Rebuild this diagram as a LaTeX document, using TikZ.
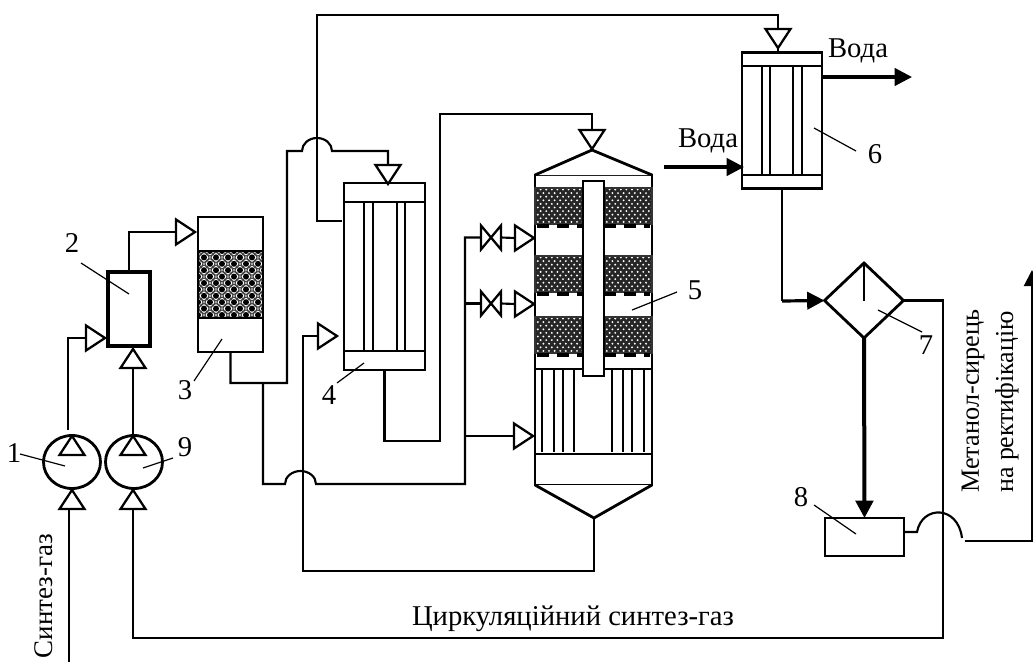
\documentclass[tikz,border=0pt]{standalone}
\usepackage{fontspec}
\setmainfont{Liberation Serif}
\usetikzlibrary{arrows.meta,shapes.geometric,calc}
\def\px{0.75pt}

\begin{document}
\begin{tikzpicture}[
  x=0.75pt,y=-0.75pt,
  font=\fontsize{21.5}{23}\selectfont,
  wall/.style={draw,line width=2.1pt,fill=white,inner sep=0pt,outer sep=0pt},
  pipe/.style={line width=1.6pt},
  leader/.style={line width=0.9pt},
  thickflow/.style={line width=2.4pt,-{Triangle[length=13pt,width=13pt]}},
  flowtri/.style={draw,line width=1.7pt,fill=white,isosceles triangle,isosceles triangle stretches,
    minimum width=25*\px,minimum height=19*\px,inner sep=0pt,outer sep=0pt,anchor=apex},
  toright/.style={flowtri,shape border rotate=0},
  toup/.style={flowtri,shape border rotate=90},
  todown/.style={flowtri,shape border rotate=270},
  balls/.style={wall,path picture={
    \foreach \i in {0,...,6}\foreach \j in {0,...,11}{
      \draw[black!75,line width=0.8pt] ($(path picture bounding box.north west)+({\i*12+mod(\j,2)*6},{\j*6.4})$) circle[radius=5];
      \fill[black] ($(path picture bounding box.north west)+({\i*12+mod(\j,2)*6},{\j*6.4})$) circle[radius=3];}}},
  catalyst/.style={draw=black!80,line width=1.4pt,inner sep=0pt,outer sep=0pt,minimum width=48*\px,minimum height=36*\px,
    path picture={
    \fill[black!85] (path picture bounding box.north west) rectangle (path picture bounding box.south east);
    \foreach \i in {0,...,9}\foreach \j in {0,...,10}{
      \fill[white] ($(path picture bounding box.north west)+({\i*5.6+mod(\j,2)*2.8},{1.5+\j*3.6})$) circle[radius=1.05];}}},
  vessel/.style={wall,minimum width=81*\px}
]
\useasboundingbox (0,0) rectangle (1033,664);

% compressors
\node[wall,ellipse,minimum width=57*\px,minimum height=53*\px] (comp1) at (72,462) {};
\node[wall,ellipse,minimum width=57*\px,minimum height=53*\px] (comp9) at (134,462) {};
\node[toup] (tc1) at (72,436) {};
\node[toup] (tc9) at (133,436) {};
\node[toup] (tc1in) at (72,490) {};
\node[toup] (tc9in) at (133,490) {};

% filter and guard column
\node[wall,line width=3pt,minimum width=42*\px,minimum height=74*\px] (filter) at (129,309) {};
\node[toright] (tf1) at (105,338) {};
\node[toup] (tf9) at (133,349) {};
\node[wall,minimum width=65*\px,minimum height=135*\px] (col3) at (230.5,284.5) {};
\node[balls,minimum width=65*\px,minimum height=67*\px] (bed3) at (230.5,284.5) {};
\node[toright] (tcol) at (195,232) {};

% heat exchanger 4
\node[vessel,minimum height=187*\px] (hx4) at (384.5,276.5) {};
\draw[wall] (344,202) -- (425,202) (344,351) -- (425,351);
\foreach \x in {364,373,397,405} \draw[wall] (\x,202) -- (\x,351);
\node[todown] (thx4) at (388,184) {};
\node[toright] (thx4b) at (337,336) {};

% reactor
\node[wall,minimum width=117*\px,minimum height=310*\px] (shell) at (593.5,330) {};
\coordinate (rtop) at (592,150);
\coordinate (rbot) at (594,518);
\draw[wall] (shell.north west) -- (rtop) -- (shell.north east);
\draw[wall] (shell.south west) -- (rbot) -- (shell.south east);
\foreach \n/\y in {a/206,b/274,c/335}{
  \node[catalyst] (bed\n l) at (559,\y) {};
  \node[catalyst] (bed\n r) at (628,\y) {};
}
\foreach \y in {226,294,355}{
  \draw[line width=2.4pt,dash pattern=on 9pt off 6pt] (537,\y) -- (583,\y);
  \draw[line width=2.4pt,dash pattern=on 9pt off 6pt] (604,\y) -- (650,\y);
}
\draw[wall] (535,369) -- (652,369);
\draw[wall,line width=1.6pt] (535,454) -- (652,454);
\foreach \x in {542,554,563,574,612,623,632,644} \draw[wall] (\x,369) -- (\x,452);
\node[wall,minimum width=21*\px,minimum height=195*\px] (tube) at (593.5,278.5) {};
\node[todown] (tr) at (592,149) {};
\node[toright] (trv1) at (534,238) {};
\node[toright] (trv2) at (534,304) {};
\node[toright] (trc) at (533,436) {};
\foreach \v/\y in {valve1/237.5,valve2/303.5}{
  \node[inner sep=0pt,outer sep=0pt,minimum width=20*\px,minimum height=24*\px] (\v) at (491,\y) {};
  \draw[line width=1.7pt] (\v.north west) -- (\v.south east) -- (\v.north east) -- (\v.south west) -- cycle;
}

% heat exchanger 6
\node[wall,minimum width=80*\px,minimum height=136*\px] (hx6) at (782,120.5) {};
\draw[wall] (742,66) -- (822,66) (742,175) -- (822,175);
\foreach \x in {762,770,793,802} \draw[wall] (\x,66) -- (\x,175);
\node[todown] (thx6) at (778,48) {};

% separator and tank
\node[wall,diamond,minimum width=79*\px,minimum height=75*\px] (sep) at (864,300.5) {};
\draw[wall] (sep.north) -- (sep.center);
\node[wall,minimum width=79*\px,minimum height=38*\px] (tank) at (864.5,537) {};

% pipes
\coordinate (gasin) at (69,662);
\draw[pipe] (gasin) -- (gasin |- tc1in.lower side);
\coordinate (c1out) at (68,430);
\draw[pipe] (c1out) |- (tf1.lower side);
\draw[pipe] (tc9.apex) -- (tf9.lower side);
\draw[pipe] (filter.north) |- (tcol.lower side);
\coordinate (j3) at (263,383);
\coordinate (c3) at (287,383);
\coordinate (h1) at (302,151);
\draw[pipe] (col3.south) |- (c3) |- (h1) arc[start angle=180,end angle=360,x radius=15,y radius=13] -| (thx4.lower side);
\coordinate (h2) at (285,484);
\coordinate (c5) at (465,484);
\draw[pipe] (j3) |- (h2) arc[start angle=180,end angle=360,x radius=15.5,y radius=13] -- (c5) |- (valve1.west);
\draw[pipe] (valve1.east) -- (trv1.lower side);
\draw[pipe] (c5 |- valve2) -- (valve2.west);
\draw[pipe] (valve2.east) -- (trv2.lower side);
\draw[pipe] (c5 |- trc) -- (trc.lower side);
\coordinate (c6) at (303,571);
\draw[pipe] (rbot) |- (c6) |- (thx4b.lower side);
\coordinate (hx4out) at (342,221);
\coordinate (c7) at (317,15);
\draw[pipe] (hx4out) -| (c7) -| (thx6.lower side);
\draw[pipe] (thx6.apex) -- (thx6.apex |- hx6.north);
\coordinate (c8) at (440,441);
\coordinate (c9) at (440,114);
\draw[pipe] (hx4.south) |- (c8) -- (c9) -| (tr.lower side);
\coordinate (water1) at (912,77);
\coordinate (water2) at (664,167);
\draw[thickflow] (hx6.east |- water1) -- (water1);
\draw[thickflow] (water2) -- (744,167);
\coordinate (c10) at (782,301);
\draw[pipe] (hx6.south) -- (c10);
\draw[thickflow] (c10) -- (sep.west);
\draw[thickflow,line width=3pt] (sep.south) -- (tank.north);
\coordinate (c11) at (943,638);
\draw[pipe] (sep.east) -| (c11) -| (tc9in.lower side);
\coordinate (h3) at (917,532);
\draw[pipe] (tank.east |- h3) -- (h3) .. controls (922,505) and (958,505) .. (962,538);
\coordinate (prod) at (965,541);
\coordinate (prodend) at (1032,270);
\draw[pipe,-{Triangle[length=12pt,width=12pt]}] (prod) -| (prodend);

% numbers
\foreach \n/\lx/\ly/\sx/\sy/\ex/\ey in {1/14/453/20/454/65/466,2/72/243/81/263/129/294,3/185/390/194/381/222/339,
    4/329/395/337/383/364/363,5/695/290/677/292/632/310,6/875/154/856/151/814/128,7/926/345/922/332/878/310,
    8/801/497/814/505/856/534,9/185/447/173/458/143/468}{
  \node (lab\n) at (\lx,\ly) {\n};
  \draw[leader] (\sx,\sy) coordinate (from\n) -- (\ex,\ey) coordinate (to\n);
}

% text
\node (lwout) at (858,51) {Вода};
\node (lwin) at (708,141) {Вода};
\node[rotate=90,font=\fontsize{20.2}{22}\selectfont] (lgas) at (44,596) {Синтез-газ};
\node (lcirc) at (573,619) {Циркуляційний синтез-газ};
\node[rotate=90,font=\fontsize{19.7}{22}\selectfont] (lmeth) at (973,401) {Метанол-сирець};
\node[rotate=90,font=\fontsize{19.4}{22}\selectfont] (lrect) at (1007,402) {на ректифікацію};
\end{tikzpicture}
\end{document}
